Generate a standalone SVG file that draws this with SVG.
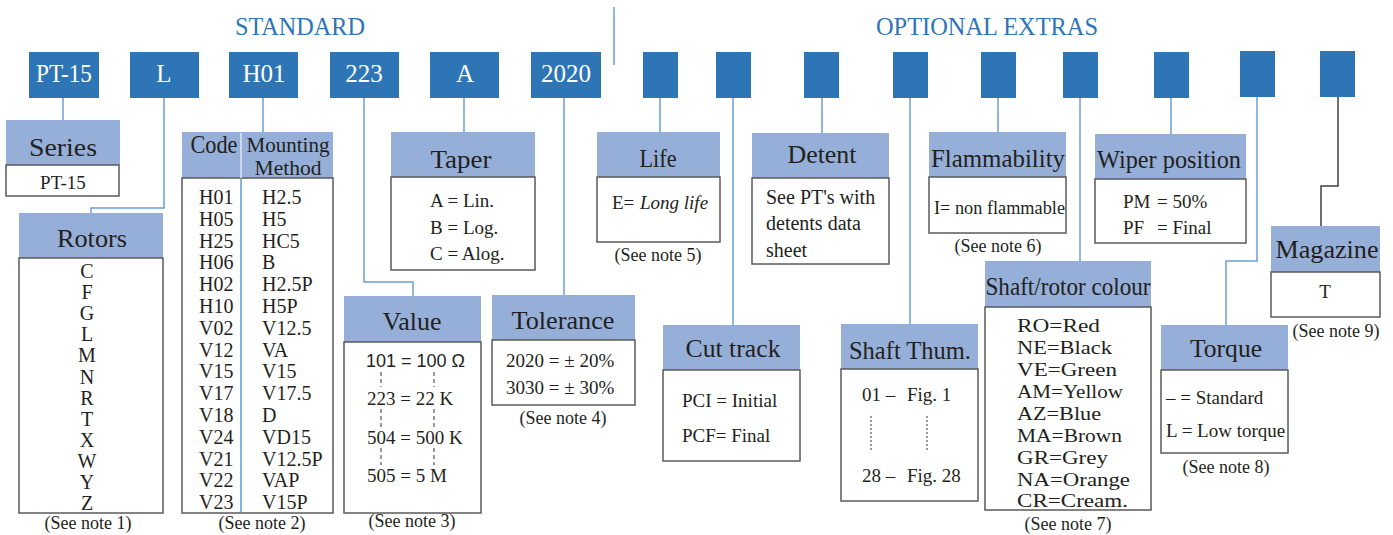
<svg xmlns="http://www.w3.org/2000/svg" width="1393" height="535" viewBox="0 0 1393 535">
<style>
.top{fill:#2E75B6}
.hdr{fill:#95AFD8}
.bd{fill:#fff;stroke:#5a5a5a;stroke-width:1.5}
.conn{fill:none;stroke:#6A9ED6;stroke-width:1.5}
.dk{fill:none;stroke:#404040;stroke-width:1.5}
text{font-family:"Liberation Serif","Times New Roman",serif;fill:#231F20}
.h{font-size:25px;text-anchor:middle}
.h2{font-size:22px;text-anchor:middle}
.b{font-size:19px}
.m{font-size:20px}
.c{font-size:19.5px}
.n{font-size:18px;text-anchor:middle}
.w{fill:#fff;font-size:25px;text-anchor:middle}
.ttl{fill:#2E75B6;font-size:25px;text-anchor:middle}
.dash{stroke:#333;stroke-width:1;stroke-dasharray:4 3}
.dot{stroke:#333;stroke-width:1;stroke-dasharray:2 2}
</style>

<g id="titles">
<text class="ttl" x="300" y="35" textLength="130" lengthAdjust="spacingAndGlyphs">STANDARD</text>
<text class="ttl" x="987" y="35" textLength="222" lengthAdjust="spacingAndGlyphs">OPTIONAL EXTRAS</text>
<line x1="614" y1="7" x2="614" y2="65" stroke="#6A9ED6" stroke-width="1.5"/>
</g>

<g id="connectors">
<path class="conn" d="M63,98 V120"/>
<path class="conn" d="M164,98 V208 H91 V213"/>
<path class="conn" d="M263,98 V132"/>
<path class="conn" d="M364,98 V282 H413 V296"/>
<path class="conn" d="M464,98 V132"/>
<path class="conn" d="M564,98 V295"/>
<path class="conn" d="M660,98 V132"/>
<path class="conn" d="M733,98 V325"/>
<path class="conn" d="M822,98 V133"/>
<path class="conn" d="M910,98 V324"/>
<path class="conn" d="M998,98 V132"/>
<path class="conn" d="M1080,98 V261"/>
<path class="conn" d="M1171,98 V134"/>
<path class="conn" d="M1257,97 V261 H1226 V325"/>
<path class="dk" d="M1338,97 V186 H1321 V226"/>
</g>

<g id="top-codes">
<g id="code-pt15"><rect class="top" x="29" y="52" width="70" height="46"/><text class="w" x="64" y="82" textLength="56" lengthAdjust="spacingAndGlyphs">PT-15</text></g>
<g id="code-l"><rect class="top" x="130" y="52" width="69" height="46"/><text class="w" x="164" y="82">L</text></g>
<g id="code-h01"><rect class="top" x="229" y="52" width="69" height="46"/><text class="w" x="264" y="82">H01</text></g>
<g id="code-223"><rect class="top" x="330" y="52" width="69" height="46"/><text class="w" x="364" y="82">223</text></g>
<g id="code-a"><rect class="top" x="430" y="52" width="69" height="46"/><text class="w" x="465" y="82">A</text></g>
<g id="code-2020"><rect class="top" x="531" y="52" width="70" height="46"/><text class="w" x="566" y="82">2020</text></g>
<g id="opt1"><rect class="top" x="643" y="52" width="35" height="46"/></g>
<g id="opt2"><rect class="top" x="716" y="52" width="35" height="46"/></g>
<g id="opt3"><rect class="top" x="804" y="52" width="35" height="46"/></g>
<g id="opt4"><rect class="top" x="893" y="52" width="35" height="46"/></g>
<g id="opt5"><rect class="top" x="981" y="52" width="35" height="46"/></g>
<g id="opt6"><rect class="top" x="1063" y="52" width="35" height="46"/></g>
<g id="opt7"><rect class="top" x="1154" y="52" width="35" height="46"/></g>
<g id="opt8"><rect class="top" x="1240" y="51" width="35" height="46"/></g>
<g id="opt9"><rect class="top" x="1320" y="51" width="35" height="46"/></g>
</g>

<g id="series">
<rect class="hdr" x="6" y="120" width="114" height="45"/>
<rect class="bd" x="6" y="165" width="113" height="31"/>
<text class="h" x="63" y="156" textLength="68" lengthAdjust="spacingAndGlyphs">Series</text>
<text class="b" x="63" y="189" text-anchor="middle">PT-15</text>
</g>

<g id="rotors">
<rect class="hdr" x="19" y="213" width="144" height="45"/>
<rect class="bd" x="19" y="258" width="144" height="255"/>
<text class="h" x="92" y="247" textLength="70" lengthAdjust="spacingAndGlyphs">Rotors</text>
<text class="m" x="87" y="278" text-anchor="middle">C</text>
<text class="m" x="87" y="299" text-anchor="middle">F</text>
<text class="m" x="87" y="320" text-anchor="middle">G</text>
<text class="m" x="87" y="341" text-anchor="middle">L</text>
<text class="m" x="87" y="362" text-anchor="middle">M</text>
<text class="m" x="87" y="384" text-anchor="middle">N</text>
<text class="m" x="87" y="405" text-anchor="middle">R</text>
<text class="m" x="87" y="426" text-anchor="middle">T</text>
<text class="m" x="87" y="447" text-anchor="middle">X</text>
<text class="m" x="87" y="468" text-anchor="middle">W</text>
<text class="m" x="87" y="489" text-anchor="middle">Y</text>
<text class="m" x="87" y="510" text-anchor="middle">Z</text>
<text class="n" x="88" y="529">(See note 1)</text>
</g>

<g id="mounting">
<rect class="hdr" x="182" y="132" width="151" height="46"/>
<rect class="bd" x="182" y="178" width="151" height="335"/>
<line x1="241" y1="133" x2="241" y2="178" stroke="#dfe7f3" stroke-width="1.5"/>
<line x1="241" y1="179" x2="241" y2="512" stroke="#5B9BD5" stroke-width="1.5"/>
<text class="h" x="214" y="153" textLength="47" lengthAdjust="spacingAndGlyphs">Code</text>
<text class="h2" x="288" y="152" textLength="83" lengthAdjust="spacingAndGlyphs">Mounting</text>
<text class="h2" x="288" y="175" textLength="67" lengthAdjust="spacingAndGlyphs">Method</text>
<text class="m" x="199" y="204">H01</text><text class="m" x="262" y="204">H2.5</text>
<text class="m" x="199" y="226">H05</text><text class="m" x="262" y="226">H5</text>
<text class="m" x="199" y="248">H25</text><text class="m" x="262" y="248">HC5</text>
<text class="m" x="199" y="269">H06</text><text class="m" x="262" y="269">B</text>
<text class="m" x="199" y="291">H02</text><text class="m" x="262" y="291">H2.5P</text>
<text class="m" x="199" y="313">H10</text><text class="m" x="262" y="313">H5P</text>
<text class="m" x="199" y="335">V02</text><text class="m" x="262" y="335">V12.5</text>
<text class="m" x="199" y="357">V12</text><text class="m" x="262" y="357">VA</text>
<text class="m" x="199" y="378">V15</text><text class="m" x="262" y="378">V15</text>
<text class="m" x="199" y="400">V17</text><text class="m" x="262" y="400">V17.5</text>
<text class="m" x="199" y="422">V18</text><text class="m" x="262" y="422">D</text>
<text class="m" x="199" y="444">V24</text><text class="m" x="262" y="444">VD15</text>
<text class="m" x="199" y="466">V21</text><text class="m" x="262" y="466">V12.5P</text>
<text class="m" x="199" y="487">V22</text><text class="m" x="262" y="487">VAP</text>
<text class="m" x="199" y="509">V23</text><text class="m" x="262" y="509">V15P</text>
<text class="n" x="262" y="529">(See note 2)</text>
</g>

<g id="taper">
<rect class="hdr" x="391" y="132" width="144" height="45"/>
<rect class="bd" x="391" y="177" width="144" height="93"/>
<text class="h" x="461" y="168" textLength="61" lengthAdjust="spacingAndGlyphs">Taper</text>
<text class="b" x="430" y="207">A = Lin.</text>
<text class="b" x="430" y="234">B = Log.</text>
<text class="b" x="430" y="260">C = Alog.</text>
</g>

<g id="value">
<rect class="hdr" x="344" y="296" width="137" height="46"/>
<rect class="bd" x="344" y="342" width="137" height="171"/>
<text class="h" x="412" y="330" textLength="59" lengthAdjust="spacingAndGlyphs">Value</text>
<text x="366" y="367" style="font-family:'Liberation Sans',Arial,sans-serif;font-size:18px">101 = 100 Ω</text>
<text class="b" x="367" y="405">223 = 22 K</text>
<text class="b" x="367" y="444">504 = 500 K</text>
<text class="b" x="367" y="482">505 = 5 M</text>
<path class="dash" d="M381,372 V387 M434,372 V387 M381,409 V427 M434,409 V427 M381,448 V465 M434,448 V465"/>
<text class="n" x="412" y="527">(See note 3)</text>
</g>

<g id="tolerance">
<rect class="hdr" x="492" y="295" width="143" height="45"/>
<rect class="bd" x="492" y="340" width="143" height="65"/>
<text class="h" x="563" y="329" textLength="103" lengthAdjust="spacingAndGlyphs">Tolerance</text>
<text class="b" x="506" y="367">2020 = ± 20%</text>
<text class="b" x="506" y="394">3030 = ± 30%</text>
<text class="n" x="563" y="424">(See note 4)</text>
</g>

<g id="life">
<rect class="hdr" x="597" y="132" width="123" height="45"/>
<rect class="bd" x="597" y="177" width="123" height="65"/>
<text class="h" x="658" y="167" textLength="37" lengthAdjust="spacingAndGlyphs">Life</text>
<text class="b" x="612" y="209">E= <tspan x="640" font-style="italic">Long life</tspan></text>
<text class="n" x="658" y="261">(See note 5)</text>
</g>

<g id="detent">
<rect class="hdr" x="752" y="133" width="137" height="45"/>
<rect class="bd" x="752" y="178" width="137" height="86"/>
<text class="h" x="822" y="163" textLength="69" lengthAdjust="spacingAndGlyphs">Detent</text>
<text class="m" x="766" y="204">See PT's with</text>
<text class="m" x="766" y="230">detents data</text>
<text class="m" x="766" y="257">sheet</text>
</g>

<g id="cut-track">
<rect class="hdr" x="663" y="325" width="137" height="45"/>
<rect class="bd" x="663" y="370" width="137" height="91"/>
<text class="h" x="733" y="357" textLength="95" lengthAdjust="spacingAndGlyphs">Cut track</text>
<text class="b" x="682" y="407">PCI = Initial</text>
<text class="b" x="682" y="442">PCF= Final</text>
</g>

<g id="shaft-thum">
<rect class="hdr" x="841" y="324" width="137" height="45"/>
<rect class="bd" x="841" y="369" width="137" height="132"/>
<text class="h" x="910" y="359" textLength="122" lengthAdjust="spacingAndGlyphs">Shaft Thum.</text>
<text class="b" x="862" y="401">01 –<tspan x="907">Fig. 1</tspan></text>
<text class="b" x="862" y="482">28 –<tspan x="907">Fig. 28</tspan></text>
<path class="dot" d="M871,416 V450 M927,416 V450"/>
</g>

<g id="flammability">
<rect class="hdr" x="929" y="132" width="137" height="45"/>
<rect class="bd" x="929" y="177" width="137" height="56"/>
<text class="h" x="998" y="167" textLength="134" lengthAdjust="spacingAndGlyphs">Flammability</text>
<text class="b" x="934" y="214" textLength="131" lengthAdjust="spacingAndGlyphs">I= non flammable</text>
<text class="n" x="998" y="252">(See note 6)</text>
</g>

<g id="shaft-rotor-colour">
<rect class="hdr" x="985" y="261" width="166" height="46"/>
<rect class="bd" x="985" y="307" width="166" height="203"/>
<text class="h" x="1068" y="295" textLength="165" lengthAdjust="spacingAndGlyphs">Shaft/rotor colour</text>
<text class="c" x="1017" y="332" textLength="83" lengthAdjust="spacingAndGlyphs">RO=Red</text>
<text class="c" x="1017" y="354" textLength="95" lengthAdjust="spacingAndGlyphs">NE=Black</text>
<text class="c" x="1017" y="376" textLength="100" lengthAdjust="spacingAndGlyphs">VE=Green</text>
<text class="c" x="1017" y="398" textLength="106" lengthAdjust="spacingAndGlyphs">AM=Yellow</text>
<text class="c" x="1017" y="420" textLength="84" lengthAdjust="spacingAndGlyphs">AZ=Blue</text>
<text class="c" x="1017" y="441.5" textLength="105" lengthAdjust="spacingAndGlyphs">MA=Brown</text>
<text class="c" x="1017" y="463.5" textLength="91" lengthAdjust="spacingAndGlyphs">GR=Grey</text>
<text class="c" x="1017" y="485.5" textLength="113" lengthAdjust="spacingAndGlyphs">NA=Orange</text>
<text class="c" x="1017" y="507" textLength="111" lengthAdjust="spacingAndGlyphs">CR=Cream.</text>
<text class="n" x="1068" y="530">(See note 7)</text>
</g>

<g id="wiper-position">
<rect class="hdr" x="1095" y="134" width="151" height="45"/>
<rect class="bd" x="1095" y="179" width="151" height="64"/>
<text class="h" x="1169" y="168" textLength="144" lengthAdjust="spacingAndGlyphs">Wiper position</text>
<text class="b" x="1123" y="208">PM<tspan x="1157">= 50%</tspan></text>
<text class="b" x="1123" y="234">PF<tspan x="1157">= Final</tspan></text>
</g>

<g id="torque">
<rect class="hdr" x="1161" y="325" width="127" height="45"/>
<rect class="bd" x="1161" y="370" width="127" height="83"/>
<text class="h" x="1226" y="357" textLength="72" lengthAdjust="spacingAndGlyphs">Torque</text>
<text class="b" x="1166" y="404">– = Standard</text>
<text class="b" x="1166" y="437">L = Low torque</text>
<text class="n" x="1226" y="473">(See note 8)</text>
</g>

<g id="magazine">
<rect class="hdr" x="1271" y="226" width="109" height="46"/>
<rect class="bd" x="1271" y="272" width="109" height="45"/>
<text class="h" x="1327" y="258" textLength="103" lengthAdjust="spacingAndGlyphs">Magazine</text>
<text class="b" x="1325" y="298" text-anchor="middle">T</text>
<text class="n" x="1336" y="337">(See note 9)</text>
</g>
</svg>
